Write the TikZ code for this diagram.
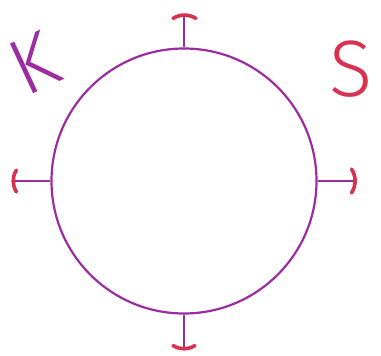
\documentclass[tikz,border=0pt]{standalone}
\usepackage{fontspec}
\usetikzlibrary{calc}
\IfFontExistsTF{Fira Sans Light}
  {\newfontfamily\handfont{Fira Sans Light}}
  {\newfontfamily\handfont{Fira Sans}}
\definecolor{plum}{RGB}{155,45,160}
\definecolor{rose}{RGB}{215,50,80}
\tikzset{
  ring/.style={circle,draw=plum,line width=2.2pt,minimum size=265pt,inner sep=0pt},
  stub/.style={draw=plum,line width=2.2pt},
  endcap/.style={draw=rose,line width=3.6pt,line cap=round},
  letter/.style={font=\handfont\fontsize{80}{80}\selectfont,inner sep=0pt},
}
\begin{document}
\begin{tikzpicture}[x=1pt,y=-1pt]
  \useasboundingbox (0,0) rectangle (381,356);
  \node[ring] (ring) at (184,181) {};
  % stub ends
  \coordinate (endN) at ($(ring.north)+(0,-32)$);
  \coordinate (endS) at ($(ring.south)+(0,34)$);
  \coordinate (endW) at ($(ring.west)+(-38,0)$);
  \coordinate (endE) at ($(ring.east)+(38,0)$);
  \draw[stub] (ring.north) -- (endN);
  \draw[stub] (ring.south) -- (endS);
  \draw[stub] (ring.west) -- (endW);
  \draw[stub] (ring.east) -- (endE);
  % caps
  \draw[endcap] ($(endN)+(-11,3)$) to[bend left=30] ($(endN)+(12,3)$);
  \draw[endcap] ($(endS)+(-11,-3)$) to[bend right=30] ($(endS)+(11,-3)$);
  \draw[endcap] ($(endW)+(4,-11)$) to[bend right=30] ($(endW)+(4,11)$);
  \draw[endcap] ($(endE)+(-4,-12)$) to[bend left=30] ($(endE)+(-4,12)$);
  % letters
  \node[letter,text=plum,rotate=25] (kay) at (34,63) {K};
  \node[letter,text=rose] (ess) at (351,69) {S};
\end{tikzpicture}
\end{document}
